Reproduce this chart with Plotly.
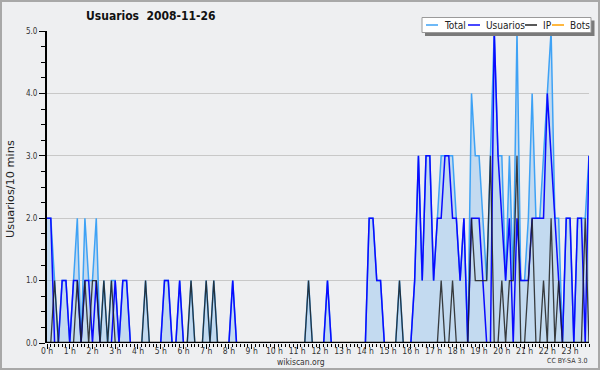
import plotly.graph_objects as go

W, H = 600, 370
ML, MR, MT, MB = 47, 11, 31, 27
PW, PH = W - ML - MR, H - MT - MB

hour_labels = [f"{h} h" for h in range(24)]

usuarios = [
    2, 2, 0, 0, 1, 1, 0, 1, 1, 0, 1, 1, 0, 1, 0, 0, 0, 0, 1, 0, 1, 1, 0, 0,
    0, 0, 0, 0, 0, 0, 0, 1, 1, 0, 0, 1, 0, 0, 0, 0, 0, 0, 0, 0, 0, 0, 0, 0,
    0, 1, 0, 0, 0, 0, 0, 0, 0, 0, 0, 0, 0, 0, 0, 0, 0, 0, 0, 0, 0, 0, 0, 0,
    0, 0, 1, 0, 0, 0, 0, 0, 0, 0, 0, 0, 0, 2, 2, 1, 1, 0, 0, 0, 0, 0, 0, 0,
    0, 1, 3, 1, 3, 3, 1, 2, 2, 3, 3, 2, 2, 1, 2, 0, 2, 2, 2, 1, 0, 0, 5, 3,
    2, 1, 2, 0, 2, 1, 1, 1, 2, 2, 2, 2, 4, 3, 2, 1, 0, 2, 2, 0, 2, 2, 0, 3,
]
ip = [
    0, 0, 1, 0, 0, 0, 0, 0, 1, 0, 1, 0, 1, 1, 0, 1, 0, 1, 0, 0, 0, 0, 0, 0,
    0, 0, 1, 0, 0, 0, 0, 0, 0, 0, 0, 0, 0, 0, 1, 0, 0, 0, 1, 0, 1, 0, 0, 0,
    0, 0, 0, 0, 0, 0, 0, 0, 0, 0, 0, 0, 0, 0, 0, 0, 0, 0, 0, 0, 0, 1, 0, 0,
    0, 0, 0, 0, 0, 0, 0, 0, 0, 0, 0, 0, 0, 0, 0, 0, 0, 0, 0, 0, 0, 1, 0, 0,
    0, 0, 0, 0, 0, 0, 0, 0, 1, 0, 0, 1, 0, 0, 0, 0, 2, 1, 1, 1, 1, 3, 0, 0,
    1, 0, 1, 1, 3, 0, 0, 1, 2, 0, 0, 1, 0, 2, 0, 1, 0, 0, 0, 0, 0, 0, 2, 0,
]
bots = [
    0, 0, 0, 0, 0, 0, 0, 0, 0, 0, 0, 0, 0, 0, 0, 0, 0, 0, 0, 0, 0, 0, 0, 0,
    0, 0, 0, 0, 0, 0, 0, 0, 0, 0, 0, 0, 0, 0, 0, 0, 0, 0, 0, 0, 0, 0, 0, 0,
    0, 0, 0, 0, 0, 0, 0, 0, 0, 0, 0, 0, 0, 0, 0, 0, 0, 0, 0, 0, 0, 0, 0, 0,
    0, 0, 0, 0, 0, 0, 0, 0, 0, 0, 0, 0, 0, 0, 0, 0, 0, 0, 0, 0, 0, 0, 0, 0,
    0, 0, 0, 0, 0, 0, 0, 0, 0, 0, 0, 0, 0, 0, 0, 0, 0, 0, 0, 0, 0, 0, 0, 0,
    0, 0, 0, 0, 0, 0, 0, 0, 0, 0, 0, 0, 0, 0, 0, 0, 0, 0, 0, 0, 0, 0, 0, 0,
]
total = [
    2, 2, 1, 0, 1, 1, 0, 1, 2, 0, 2, 1, 1, 2, 0, 1, 0, 1, 1, 0, 1, 1, 0, 0,
    0, 0, 1, 0, 0, 0, 0, 1, 1, 0, 0, 1, 0, 0, 1, 0, 0, 0, 1, 0, 1, 0, 0, 0,
    0, 1, 0, 0, 0, 0, 0, 0, 0, 0, 0, 0, 0, 0, 0, 0, 0, 0, 0, 0, 0, 1, 0, 0,
    0, 0, 1, 0, 0, 0, 0, 0, 0, 0, 0, 0, 0, 2, 2, 1, 1, 0, 0, 0, 0, 1, 0, 0,
    0, 1, 3, 1, 3, 3, 1, 2, 3, 3, 3, 3, 2, 1, 2, 0, 4, 3, 3, 2, 1, 3, 5, 3,
    3, 1, 3, 1, 5, 1, 1, 2, 4, 2, 2, 3, 4, 5, 2, 2, 0, 2, 2, 0, 2, 2, 2, 3,
]
slots = list(range(len(usuarios)))

C_TOTAL = "#3ea2f5"
C_USU = "#0a0aff"
C_IP = "rgba(30,30,30,0.85)"
C_BOTS = "#ffa000"
BG = "#eeeff1"
FONT = "DejaVu Sans Condensed, DejaVu Sans, sans-serif"

fig = go.Figure()
fig.add_trace(go.Scatter(x=slots, y=total, mode="lines", name="Total",
                         line=dict(color=C_TOTAL, width=1.5),
                         fill="tozeroy", fillcolor="rgba(160,200,238,0.55)"))
fig.add_trace(go.Scatter(x=slots, y=bots, mode="lines", name="Bots",
                         line=dict(color=C_BOTS, width=1)))
fig.add_trace(go.Scatter(x=slots, y=usuarios, mode="lines", name="Usuarios",
                         line=dict(color=C_USU, width=1.5)))
fig.add_trace(go.Scatter(x=slots, y=ip, mode="lines", name="IP",
                         line=dict(color=C_IP, width=1.3)))


def px(x):
    return (x - ML) / PW


def py(y):
    return 1 - (y - MT) / PH


shapes = [
    # x axis baseline drawn over the zero-valued lines
    dict(type="line", xref="x", yref="y", x0=0, x1=143, y0=0, y1=0,
         line=dict(color="#000", width=2.5), layer="above"),
    # outer frame
    dict(type="rect", xref="paper", yref="paper", x0=px(1), x1=px(599), y0=py(369), y1=py(1),
         line=dict(color="#a8a8a8", width=2), fillcolor="rgba(0,0,0,0)", layer="above"),
    # legend shadow
    dict(type="rect", xref="paper", yref="paper", x0=px(425), x1=px(594.5), y0=py(36), y1=py(20.5),
         line=dict(width=0), fillcolor="#7a7a7a", layer="above"),
    # legend box
    dict(type="rect", xref="paper", yref="paper", x0=px(422), x1=px(591), y0=py(32.5), y1=py(17.5),
         line=dict(color="#9a9a9a", width=1), fillcolor="#ffffff", layer="above"),
]
annotations = []
legend_items = [("Total", C_TOTAL, 426, 442), ("Usuarios", C_USU, 468, 484),
                ("IP", "#222222", 525, 541), ("Bots", C_BOTS, 552, 568)]
for name, col, lx, tx in legend_items:
    shapes.append(dict(type="line", xref="paper", yref="paper", x0=px(lx), x1=px(lx + 12),
                       y0=py(25), y1=py(25), line=dict(color=col, width=1.5), layer="above"))
    annotations.append(dict(text=name, xref="paper", yref="paper", x=px(tx), y=py(25.5),
                            xanchor="left", yanchor="middle", showarrow=False,
                            font=dict(family=FONT, size=10, color="#222")))

annotations += [
    dict(text="<b>Usuarios  2008-11-26</b>", xref="paper", yref="paper", x=px(84), y=py(16),
         xanchor="left", yanchor="middle", showarrow=False,
         font=dict(family=FONT, size=12, color="#111")),
    dict(text="Usuarios/10 mins", xref="paper", yref="paper", x=px(10), y=py(189),
         xanchor="center", yanchor="middle", showarrow=False, textangle=-90,
         font=dict(family="DejaVu Sans, sans-serif", size=11.3, color="#222")),
    dict(text="wikiscan.org", xref="paper", yref="paper", x=px(301), y=py(362),
         xanchor="center", yanchor="middle", showarrow=False,
         font=dict(family=FONT, size=8.5, color="#333")),
    dict(text="CC BY-SA 3.0", xref="paper", yref="paper", x=px(589), y=py(361),
         xanchor="right", yanchor="middle", showarrow=False,
         font=dict(family=FONT, size=7, color="#333")),
]

fig.update_layout(
    width=W, height=H,
    margin=dict(l=ML, r=MR, t=MT, b=MB, autoexpand=False),
    paper_bgcolor=BG, plot_bgcolor=BG,
    showlegend=False,
    shapes=shapes, annotations=annotations,
    font=dict(family=FONT, size=8, color="#333"),
)
fig.update_xaxes(range=[0, 143], tickmode="array", automargin=False,
                 tickvals=[h * 6 for h in range(24)], ticktext=hour_labels,
                 ticks="outside", ticklen=5, tickcolor="#000", tickwidth=1,
                 minor=dict(dtick=1, tick0=0, ticks="outside", ticklen=3, tickcolor="#000"),
                 showline=False, showgrid=False,
                 zeroline=False, tickfont=dict(size=8.5), ticklabelstandoff=-5)
fig.update_yaxes(range=[0, 5], tickmode="array", tickvals=[0, 1, 2, 3, 4, 5], automargin=False,
                 ticktext=["0.0", "1.0", "2.0", "3.0", "4.0", "5.0"],
                 ticks="outside", ticklen=6, tickcolor="#000", tickwidth=1,
                 minor=dict(dtick=0.25, tick0=0, ticks="outside", ticklen=4, tickcolor="#000"),
                 showline=True, linecolor="#000", linewidth=2,
                 showgrid=True, gridcolor="#c8c8c8", gridwidth=1, zeroline=False,
                 tickfont=dict(size=8))

fig.write_html("out.html", config={"displayModeBar": False},
               post_script="document.body.style.margin='0';document.body.style.overflow='hidden';")
